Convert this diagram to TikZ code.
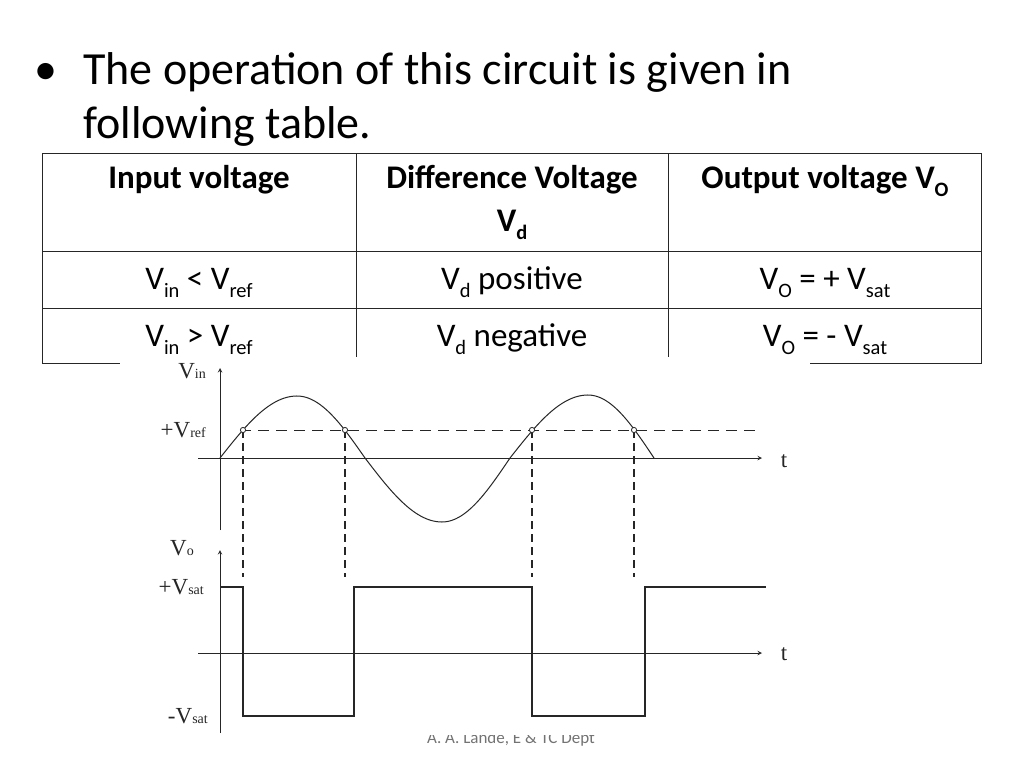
\documentclass[tikz,border=0pt]{standalone}
\usepackage{fontspec}
\setmainfont{Carlito}
\newfontfamily\tms{Liberation Serif}
\newcommand{\sbs}[1]{\raisebox{-0.25em}{\scalebox{0.62}{#1}}}
\newcommand{\gsb}[1]{{\fontsize{14}{14}\selectfont #1}}
\begin{document}
\begin{tikzpicture}[x=1pt,y=-1pt,
  tl/.style={line width=0.9pt,draw=black!85},
  ax/.style={line width=1pt,-stealth,draw=black!85},
  dsh/.style={line width=1.1pt,dash pattern=on 8pt off 5pt,draw=black!85},
  crv/.style={line width=1pt,draw=black!85},
  lbl/.style={font=\tms\fontsize{23}{23}\selectfont,text=black!85,inner sep=0pt},
  cell/.style={font=\fontsize{33}{38}\selectfont,inner sep=0pt,anchor=base},
  hd/.style={cell,font=\bfseries\fontsize{33}{46}\selectfont,align=center,anchor=north}]
\useasboundingbox[fill=white] (0,0) rectangle (1024,768);
% bullet text
\node[anchor=base west,inner sep=0pt,font=\fontsize{46}{50}\selectfont] (b) at (34,84) {•};
\node[anchor=base west,inner sep=0pt,font=\fontsize{46}{50}\selectfont] (l1) at (83,84) {The operation of this circuit is given in};
\node[anchor=base west,inner sep=0pt,font=\fontsize{46}{50}\selectfont] (l2) at (83,138) {following table.};
% table
\draw[tl] (42,153) rectangle (981,363);
\draw[tl] (42,251) -- (981,251);
\draw[tl] (42,308) -- (981,308);
\draw[tl] (356,153) -- (356,363);
\draw[tl] (668,153) -- (668,363);
\node[hd] (h1) at (199,165) {Input voltage};
\node[hd] (h2) at (512,165) {Difference Voltage\\[-3pt] V\sbs{d}};
\node[hd] (h3) at (825,165) {Output voltage V\sbs{O}};
\node[cell] (c11) at (199,289) {V\sbs{in} < V\sbs{ref}};
\node[cell] (c12) at (512,289) {V\sbs{d} positive};
\node[cell] (c13) at (825,289) {V\sbs{O} = + V\sbs{sat}};
\node[cell] (c21) at (199,346) {V\sbs{in} > V\sbs{ref}};
\node[cell] (c22) at (512,346) {V\sbs{d} negative};
\node[cell] (c23) at (825,346) {V\sbs{O} = - V\sbs{sat}};
% footer
\node[anchor=base,inner sep=0pt,font=\fontsize{17}{17}\selectfont,text=black!55] (ft) at (511,743) {A. A. Lande, E \& TC Dept};
% image area
\fill[white] (120,357) rectangle (810,735);
% upper graph
\draw[ax] (220,530) -- (220,368);
\draw[ax] (198,458) -- (762,458);
\draw[dsh,line width=0.9pt,dash pattern=on 11pt off 7pt] (240,430) -- (762,430);
\draw[crv] plot[domain=0:90,samples=30] ({220+77*\x/90},{458-62*sin(\x)})
  -- plot[domain=0:90,samples=30] ({297+68*\x/90},{458-62*cos(\x)})
  -- plot[domain=0:90,samples=30] ({365+77*\x/90},{458+64*sin(\x)})
  -- plot[domain=0:90,samples=30] ({442+68*\x/90},{458+64*cos(\x)})
  -- plot[domain=0:90,samples=30] ({510+78*\x/90},{458-63*sin(\x)})
  -- plot[domain=0:90,samples=30] ({588+66*\x/90},{458-63*cos(\x)});
\foreach \x in {243,345,532,634}{
  \draw[dsh] (\x,430) -- (\x,577);
  \draw[line width=0.8pt,black!85,fill=white] (\x,430) circle (2.6);
}
\node[lbl,anchor=east] (vin) at (206,371) {V\gsb{in}};
\node[lbl,anchor=east] (vref) at (206,430) {+V\gsb{ref}};
\node[lbl] (t1) at (784,461) {t};
% lower graph
\draw[ax] (220,733) -- (220,550);
\draw[ax] (198,653) -- (762,653);
\draw[line width=1.2pt,black!85] (220,587) -- (243,587) -- (243,716) -- (354,716) -- (354,587) -- (532,587) -- (532,716) -- (645,716) -- (645,587) -- (766,587);
\node[lbl,anchor=east] (vo) at (194,548) {V\gsb{o}};
\node[lbl,anchor=east] (vsp) at (204,587) {+V\gsb{sat}};
\node[lbl,anchor=east] (vsm) at (208,716) {-V\gsb{sat}};
\node[lbl] (t2) at (784,654) {t};
\end{tikzpicture}
\end{document}
